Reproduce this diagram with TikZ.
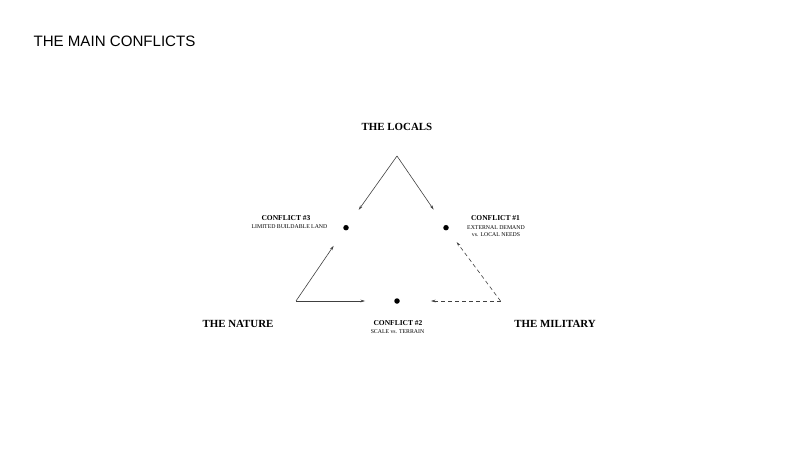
\documentclass[tikz,border=0pt]{standalone}
\usepackage{fontspec}
\setmainfont{Liberation Serif}
\newfontfamily\titlefont{Liberation Sans}
\usepackage{tikz}
\usetikzlibrary{arrows.meta,positioning}

\begin{document}
\begin{tikzpicture}[x=1pt,y=-1pt]
\tikzset{party/.style={font=\bfseries\fontsize{10.9}{13}\selectfont}}
\tikzset{cf/.style={font=\bfseries\fontsize{7.5}{8}\selectfont,inner sep=0pt}}
\tikzset{cfsub/.style={font=\fontsize{5.8}{7.5}\selectfont,align=center,inner sep=0pt}}
\tikzset{dot/.style={circle,fill=black,minimum size=5.5pt,inner sep=0pt}}

\useasboundingbox (0,0) rectangle (804,452);

\node [font=\titlefont\fontsize{15.1}{18}\selectfont,anchor=west] (title) at (30,41) {THE MAIN CONFLICTS};

\node [party] (locals) at (397,127) {THE LOCALS};
\node [party] (nature) at (238,324) {THE NATURE};
\node [party] (military) at (555,324) {THE MILITARY};

\coordinate (top) at (397,156);
\coordinate (left) at (296,301);
\coordinate (right) at (500.5,301);

\node [dot] (d3) at (346,227.7) {};
\node [dot] (d1) at (446,227.7) {};
\node [dot] (d2) at (397,301) {};

\node [cf] (c3) at (286,218) {CONFLICT \#3};
\node [cfsub] (c3t) at (289.5,227) {LIMITED BUILDABLE LAND};
\node [cf] (c1) at (495.5,218.5) {CONFLICT \#1};
\node [cfsub] (c1t) at (496,231) {EXTERNAL DEMAND\\vs. LOCAL NEEDS};
\node [cf] (c2) at (398,323) {CONFLICT \#2};
\node [cfsub] (c2t) at (397.5,331.5) {SCALE vs. TERRAIN};

\begin{scope}[>={Stealth[length=4.5pt,width=2.6pt]},every edge/.style={draw=black!75,line width=0.6pt}]
\path (top) edge[->,shorten >=19pt] (d3);
\path (top) edge[->,shorten >=19pt] (d1);
\path (left) edge[->,shorten >=19pt] (d3);
\path (left) edge[->,shorten >=29pt] (d2);
\path (right) edge[->,dash pattern=on 4pt off 3pt,shorten >=15pt] (d1);
\path (right) edge[->,dash pattern=on 4pt off 3pt,shorten >=31pt] (d2);
\end{scope}

\end{tikzpicture}
\end{document}
